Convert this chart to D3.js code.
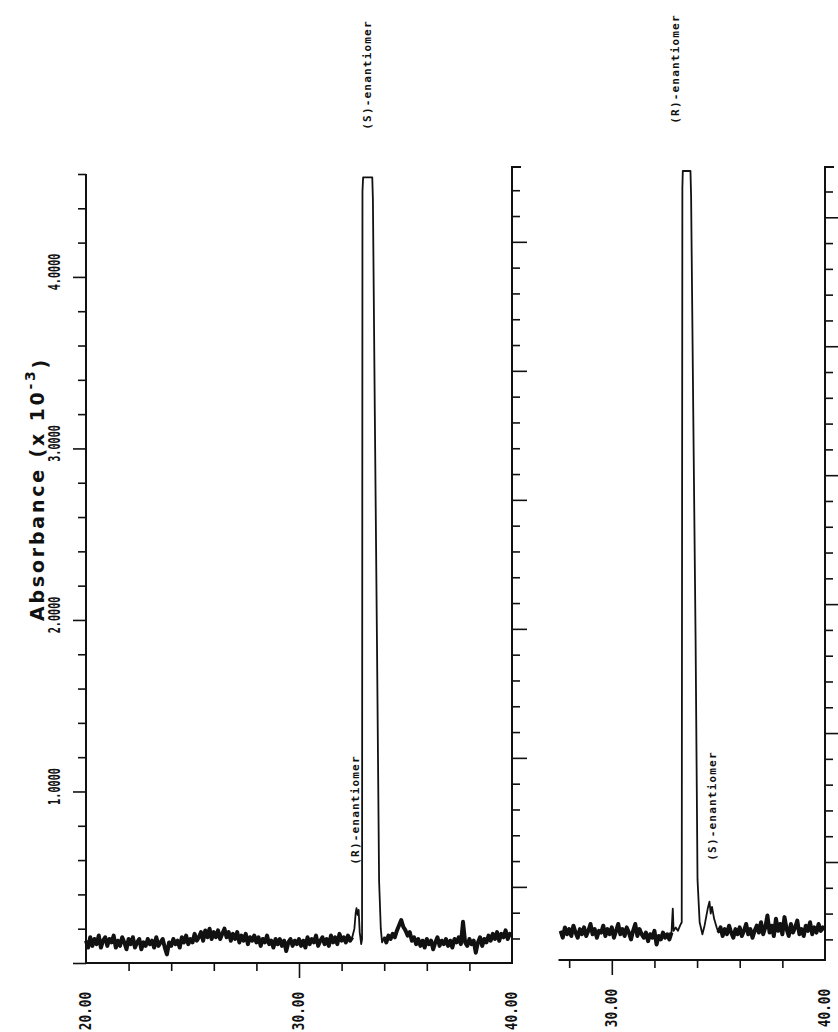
<!DOCTYPE html>
<html>
<head>
<meta charset="utf-8">
<script src="https://cdn.jsdelivr.net/npm/d3@7"></script>
<style>
body { margin: 0; background: #fff; }
svg { display: block; }
</style>
</head>
<body>
<svg id="svg" width="838" height="1032"></svg>
<script>
// chromatogram data, absorbance in units of 10^-3, time in minutes
// baseline segments are sampled every 0.1 min, peaks are listed point by point

var leftBaseA = { start: 20.0, step: 0.1, values: [
	0.13, 0.09, 0.15, 0.10, 0.14, 0.11, 0.16, 0.09, 0.13, 0.15,
	0.10, 0.14, 0.12, 0.16, 0.09, 0.13, 0.10, 0.15, 0.12, 0.08,
	0.14, 0.11, 0.15, 0.09, 0.12, 0.14, 0.08, 0.12, 0.10, 0.14,
	0.11, 0.13, 0.09, 0.15, 0.10, 0.12, 0.14, 0.09, 0.05, 0.12,
	0.10, 0.14, 0.11, 0.13, 0.09, 0.15, 0.12, 0.16, 0.11, 0.14,
	0.12, 0.17, 0.13, 0.15, 0.18, 0.13, 0.19, 0.15, 0.20, 0.14,
	0.18, 0.15, 0.19, 0.14, 0.17, 0.20, 0.15, 0.18, 0.13, 0.17,
	0.14, 0.18, 0.12, 0.16, 0.13, 0.17, 0.11, 0.15, 0.13, 0.16,
	0.12, 0.15, 0.10, 0.14, 0.12, 0.16, 0.11, 0.13, 0.09, 0.14,
	0.11, 0.14, 0.10, 0.13, 0.07, 0.12, 0.14, 0.10, 0.13, 0.11,
	0.14, 0.10, 0.13, 0.09, 0.15, 0.11, 0.14, 0.12, 0.16, 0.10,
	0.13, 0.15, 0.11, 0.14, 0.10, 0.16, 0.12, 0.15, 0.11, 0.17,
	0.13, 0.15, 0.12, 0.16, 0.13, 0.15
]}
var leftPeaks = [
	[32.60, 0.20], [32.66, 0.29], [32.70, 0.32], [32.75, 0.28], [32.80, 0.31],
	[32.85, 0.18], [32.92, 0.11], [32.96, 0.14], [32.98, 4.50], [33.01, 4.58],
	[33.44, 4.58], [33.47, 4.45], [33.56, 3.20], [33.66, 1.88], [33.76, 0.48],
	[33.84, 0.20], [33.90, 0.12]
]
var leftBaseB = { start: 34.0, step: 0.1, values: [
	0.15, 0.12, 0.16, 0.14, 0.17, 0.15, 0.19, 0.22, 0.25, 0.21,
	0.19, 0.16, 0.18, 0.13, 0.15, 0.11, 0.14, 0.10, 0.13, 0.09,
	0.14, 0.11, 0.13, 0.08, 0.12, 0.15, 0.10, 0.13, 0.11, 0.14,
	0.10, 0.13, 0.09, 0.14, 0.12, 0.15, 0.11, 0.24, 0.12, 0.10,
	0.14, 0.11, 0.13, 0.06, 0.12, 0.15, 0.10, 0.14, 0.12, 0.16,
	0.13, 0.17, 0.14, 0.18, 0.13, 0.17, 0.15, 0.19, 0.14, 0.17,
	0.16
]}

var rightBaseA = { start: 27.6, step: 0.1, values: [
	0.17, 0.13, 0.19, 0.15, 0.18, 0.14, 0.20, 0.16, 0.13, 0.18,
	0.15, 0.19, 0.14, 0.17, 0.21, 0.15, 0.18, 0.13, 0.17, 0.16,
	0.20, 0.14, 0.18, 0.15, 0.19, 0.13, 0.17, 0.21, 0.15, 0.18,
	0.14, 0.19, 0.16, 0.12, 0.17, 0.21, 0.14, 0.18, 0.15, 0.13,
	0.16, 0.11, 0.15, 0.13, 0.17, 0.09, 0.14, 0.12, 0.16, 0.13,
	0.15, 0.12, 0.16
]}
var rightPeaks = [
	[32.86, 0.30], [32.90, 0.17], [33.00, 0.19], [33.10, 0.17], [33.20, 0.20],
	[33.28, 0.22], [33.31, 4.50], [33.33, 4.60], [33.69, 4.60], [33.72, 4.45],
	[33.82, 3.20], [33.93, 1.87], [34.02, 0.47], [34.12, 0.22], [34.25, 0.15],
	[34.35, 0.20], [34.50, 0.30], [34.58, 0.34], [34.64, 0.27], [34.70, 0.31],
	[34.80, 0.24], [34.92, 0.19]
]
var rightBaseB = { start: 35.0, step: 0.1, values: [
	0.16, 0.19, 0.14, 0.18, 0.15, 0.20, 0.16, 0.13, 0.18, 0.15,
	0.19, 0.14, 0.17, 0.21, 0.15, 0.18, 0.13, 0.17, 0.20, 0.16,
	0.22, 0.15, 0.19, 0.26, 0.16, 0.20, 0.14, 0.24, 0.17, 0.21,
	0.15, 0.25, 0.18, 0.14, 0.21, 0.16, 0.19, 0.23, 0.15, 0.18,
	0.14, 0.20, 0.17, 0.22, 0.15, 0.19, 0.16, 0.21, 0.17, 0.19,
	0.18
]}

var leftTimeTicks = [22, 24, 26, 28, 30, 32, 34, 36, 38]
var leftTimeLabels = [20, 30, 40]
var rightTimeTicks = [28, 30, 32, 34, 36, 38]
var rightTimeLabels = [30, 40]
var majorTime = [30]
var absTicks = [0, 0.2, 0.4, 0.6, 0.8, 1, 1.2, 1.4, 1.6, 1.8, 2, 2.2, 2.4, 2.6, 2.8,
	3, 3.2, 3.4, 3.6, 3.8, 4, 4.2, 4.4, 4.6]
var absLabels = [1, 2, 3, 4]
var peakLabels = [
	{ panel: "left", text: "(S)-enantiomer", x: 33.2, y: 75 },
	{ panel: "left", text: "(R)-enantiomer", x: 32.63, y: 810 },
	{ panel: "right", text: "(R)-enantiomer", x: 32.96, y: 69 },
	{ panel: "right", text: "(S)-enantiomer", x: 34.7, y: 806 }
]

var ink = "#111"
var mono = "'DejaVu Sans Mono', 'Liberation Mono', monospace"

var svg = d3.select("#svg")

var left = {
	x: d3.scaleLinear().domain([20, 40]).range([86, 512]),
	y: d3.scaleLinear().domain([0, 4.6]).range([963, 174]),
	y2: d3.scaleLinear().domain([0.41, 6.58]).range([963, 167])
}
var right = {
	x: d3.scaleLinear().domain([27.5, 40]).range([558.5, 825]),
	y: d3.scaleLinear().domain([0, 4.6]).range([960, 171]),
	y2: d3.scaleLinear().domain([0.24, 6.39]).range([960, 167])
}

function expand(seg) {
	return seg.values.map(function (v, i) {
		return [seg.start + i * seg.step, v]
	})
}

function trace(a, peaks, b) {
	return expand(a).concat(peaks, expand(b))
		.sort(function (p, q) { return p[0] - q[0] })
}

// ticks every 0.2 on the unlabeled right hand scales
function secondaryTicks(s) {
	var d = s.domain()
	return d3.range(Math.ceil(d[0] * 5), Math.floor(d[1] * 5) + 1)
		.map(function (k) { return k / 5 })
}

function tickAxis(g, axis, values, size) {
	g.call(axis.tickValues(values).tickSize(size).tickFormat(""))
	g.select(".domain").remove()
	g.selectAll(".tick line")
		.attr("stroke", ink)
		.attr("stroke-width", 1.6)
}

function isWhole(v) { return Math.abs(v - Math.round(v)) < 1e-6 }

// plotter style digits, squeezed along the text direction by the caller
function plotterText(sel, size) {
	sel.attr("text-anchor", "middle")
		.attr("dy", "0.35em")
		.style("font-family", mono)
		.style("font-size", size + "px")
		.style("font-weight", "bold")
		.style("fill", ink)
	return sel
}

function drawPanel(p, a, peaks, b, timeTicks, timeLabels, withLeftAxis) {
	var g = svg.append("g")
	var x0 = p.x.range()[0], x1 = p.x.range()[1]
	var yb = p.y.range()[0]

	// time axis ticks, pointing down
	var minor = timeTicks.filter(function (t) { return majorTime.indexOf(t) < 0 })
	tickAxis(g.append("g").attr("transform", "translate(0," + yb + ")"),
		d3.axisBottom(p.x), minor, 8)
	tickAxis(g.append("g").attr("transform", "translate(0," + yb + ")"),
		d3.axisBottom(p.x), majorTime, 15)

	plotterText(g.selectAll(".tlabel")
		.data(timeLabels)
		.enter().append("text")
		.attr("transform", function (t) {
			return "translate(" + p.x(t) + "," + (yb + 48) + ") rotate(-90) scale(0.85,1)"
		}), 15)
		.text(function (t) { return d3.format(".2f")(t) })

	// right hand scale
	var r2 = secondaryTicks(p.y2)
	tickAxis(g.append("g").attr("transform", "translate(" + x1 + ",0)"),
		d3.axisRight(p.y2), r2.filter(function (v) { return !isWhole(v) }), 8)
	tickAxis(g.append("g").attr("transform", "translate(" + x1 + ",0)"),
		d3.axisRight(p.y2), r2.filter(isWhole), 15)

	if (withLeftAxis) {
		tickAxis(g.append("g").attr("transform", "translate(" + x0 + ",0)"),
			d3.axisLeft(p.y), absTicks.filter(function (v) { return !isWhole(v) }), 8)
		tickAxis(g.append("g").attr("transform", "translate(" + x0 + ",0)"),
			d3.axisLeft(p.y), absTicks.filter(isWhole), 13)

		plotterText(g.selectAll(".alabel")
			.data(absLabels)
			.enter().append("text")
			.attr("transform", function (v) {
				return "translate(" + (x0 - 31) + "," + (p.y(v) - 5) + ") rotate(-90) scale(0.68,1)"
			}), 15)
			.text(function (v) { return d3.format(".4f")(v) })
	}

	// frame
	var top2 = p.y2.range()[1]
	var frame = withLeftAxis
		? "M" + x0 + "," + p.y.range()[1] + " V" + yb + " H" + x1 + " V" + top2 + " h9"
		: "M" + x0 + "," + yb + " H" + x1 + " V" + top2 + " h9"
	g.append("path")
		.attr("d", frame)
		.attr("fill", "none")
		.attr("stroke", ink)
		.attr("stroke-width", 2)

	// the trace: thin outline for the peaks, heavy noisy band for the baseline
	var line = d3.line()
		.x(function (d) { return p.x(d[0]) })
		.y(function (d) { return p.y(d[1]) })
	g.append("path")
		.datum(trace(a, peaks, b))
		.attr("d", line)
		.attr("fill", "none")
		.attr("stroke", ink)
		.attr("stroke-width", 1.8)
		.attr("stroke-linejoin", "round")
	g.selectAll(".band")
		.data([expand(a), expand(b)])
		.enter().append("path")
		.attr("d", line)
		.attr("fill", "none")
		.attr("stroke", ink)
		.attr("stroke-width", 4)
		.attr("stroke-linejoin", "round")
}

drawPanel(left, leftBaseA, leftPeaks, leftBaseB, leftTimeTicks, leftTimeLabels, true)
drawPanel(right, rightBaseA, rightPeaks, rightBaseB, rightTimeTicks, rightTimeLabels, false)

svg.selectAll(".plabel")
	.data(peakLabels)
	.enter().append("text")
	.attr("transform", function (d) {
		var p = d.panel == "left" ? left : right
		return "translate(" + p.x(d.x) + "," + d.y + ") rotate(-90)"
	})
	.attr("text-anchor", "middle")
	.attr("dy", "0.35em")
	.style("font-family", mono)
	.style("font-size", "11px")
	.style("font-weight", "bold")
	.style("letter-spacing", "1.2px")
	.style("fill", ink)
	.text(function (d) { return d.text })

var title = svg.append("text")
	.attr("transform", "translate(37,489) rotate(-90)")
	.attr("text-anchor", "middle")
	.attr("dy", "0.35em")
	.style("font-family", "'DejaVu Sans', sans-serif")
	.style("font-weight", "bold")
	.style("font-size", "19px")
	.style("letter-spacing", "2.8px")
	.style("fill", ink)
title.append("tspan").text("Absorbance (x 10")
title.append("tspan").attr("dy", "-0.6em").style("font-size", "14px").text("-3")
title.append("tspan").attr("dy", "0.6em").text(")")
</script>
</body>
</html>
